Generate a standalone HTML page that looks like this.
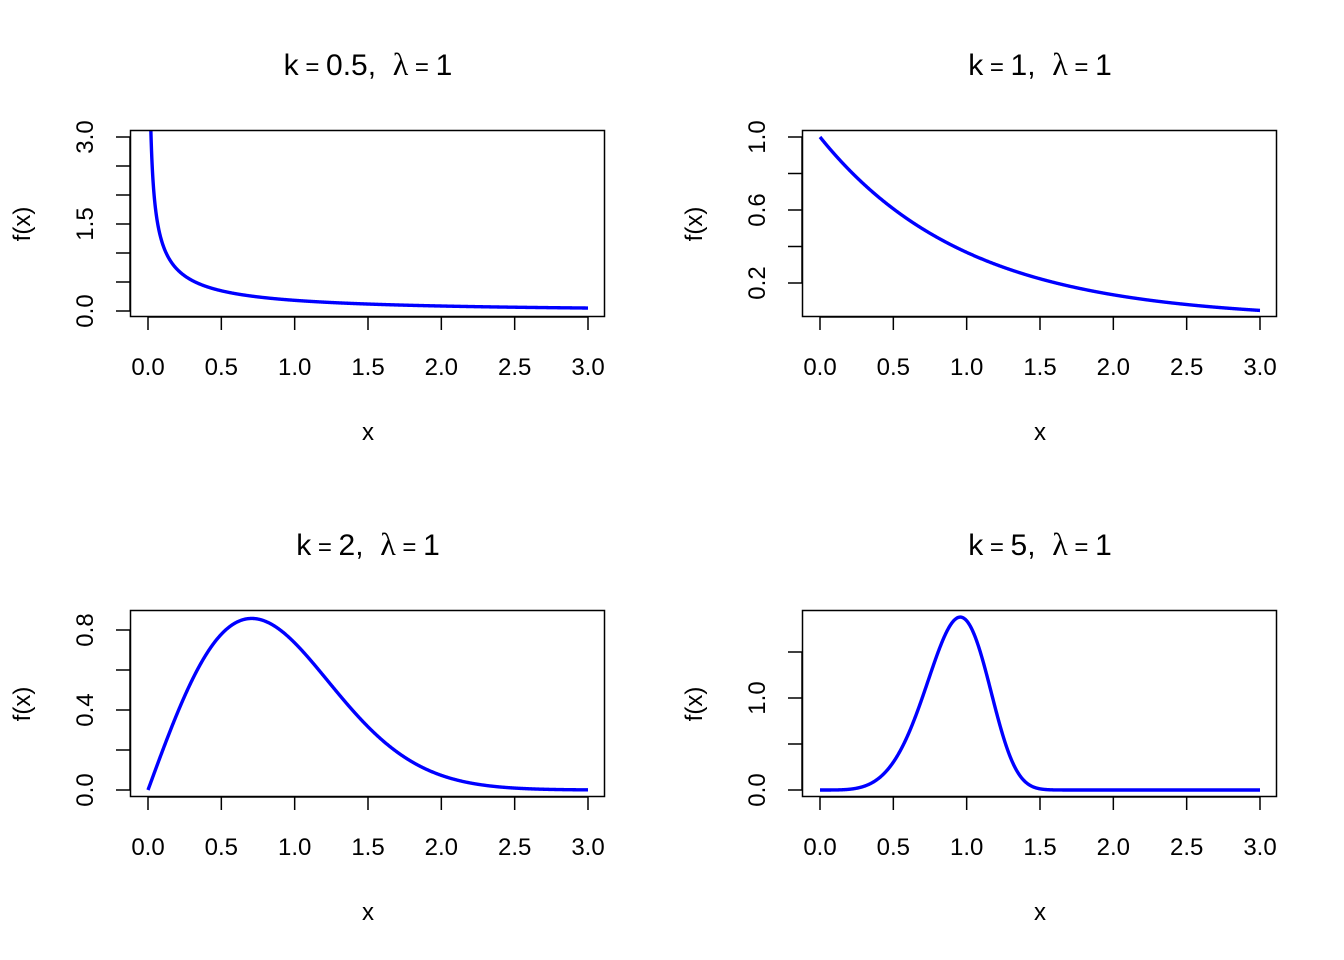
<!DOCTYPE html>
<html><head><meta charset="utf-8"><style>
html,body{margin:0;padding:0;background:#fff;}
svg{display:block;}
text{font-family:"Liberation Sans",Arial,sans-serif;fill:#000;white-space:pre;}
</style></head><body>
<svg id="s" width="1344" height="960" xmlns="http://www.w3.org/2000/svg"></svg>
<script>
var s=document.getElementById('s'),out='';
var panels=[
 {k:0.5,ox:0,oy:0,y0:311,ppu:58,yt:[0,0.5,1,1.5,2,2.5,3],yl:[0,1.5,3],t:'0.5'},
 {k:1,ox:672,oy:0,y0:319.5,ppu:182.5,yt:[0.2,0.4,0.6,0.8,1.0],yl:[0.2,0.6,1.0],t:'1'},
 {k:2,ox:0,oy:480,y0:310,ppu:200,yt:[0,0.2,0.4,0.6,0.8],yl:[0,0.4,0.8],t:'2'},
 {k:5,ox:672,oy:480,y0:310,ppu:92,yt:[0,0.5,1,1.5],yl:[0,1],t:'5'}
];
panels.forEach(function(p,i){
 var ox=p.ox,oy=p.oy;
 var X=function(x){return ox+148+x*440/3;},Y=function(y){return oy+p.y0-y*p.ppu;};
 out+='<clipPath id="c'+i+'"><rect x="'+(ox+130)+'" y="'+(oy+130)+'" width="475" height="187"/></clipPath>';
 var d='';
 for(var j=0;j<=1500;j++){var x=j*3/1500;if(p.k<1&&x===0)x=0.0005;
  var f=p.k*Math.pow(x,p.k-1)*Math.exp(-Math.pow(x,p.k));var yy=Math.max(Y(f),oy+0);d+=(j?'L':'M')+X(x).toFixed(2)+' '+yy.toFixed(2);}
 out+='<path d="'+d+'" fill="none" stroke="#0000ff" stroke-width="3.4" clip-path="url(#c'+i+')"/>';
 out+='<rect x="'+(ox+130.5)+'" y="'+(oy+130.5)+'" width="474" height="186" fill="none" stroke="#000" stroke-width="1.5"/>';
 for(var t=0;t<=6;t++){var xx=X(t*0.5);out+='<line x1="'+xx+'" y1="'+(oy+317)+'" x2="'+xx+'" y2="'+(oy+330)+'" stroke="#000" stroke-width="1.5"/>';
  out+='<text x="'+xx+'" y="'+(oy+375)+'" font-size="24" text-anchor="middle">'+(t*0.5).toFixed(1)+'</text>';}
 out+='<line x1="'+X(0)+'" y1="'+(oy+317)+'" x2="'+X(3)+'" y2="'+(oy+317)+'" stroke="#000" stroke-width="1.5"/>';
 p.yt.forEach(function(v){var yy=Y(v);out+='<line x1="'+(ox+116)+'" y1="'+yy+'" x2="'+(ox+130)+'" y2="'+yy+'" stroke="#000" stroke-width="1.5"/>';});
 out+='<line x1="'+(ox+130)+'" y1="'+Y(p.yt[0])+'" x2="'+(ox+130)+'" y2="'+Y(p.yt[p.yt.length-1])+'" stroke="#000" stroke-width="1.5"/>';
 p.yl.forEach(function(v){var yy=Y(v);out+='<text transform="translate('+(ox+93)+','+yy+') rotate(-90)" font-size="24" text-anchor="middle">'+v.toFixed(1)+'</text>';});
 out+='<text x="'+(ox+368)+'" y="'+(oy+75)+'" font-size="30" text-anchor="middle">k<tspan font-size="24"> = </tspan>'+p.t+',  <tspan font-family="Liberation Serif,serif" font-size="32">λ</tspan><tspan font-size="24"> = </tspan>1</text>';
 out+='<text x="'+(ox+368)+'" y="'+(oy+440)+'" font-size="24" text-anchor="middle">x</text>';
 out+='<text transform="translate('+(ox+30)+','+(oy+224)+') rotate(-90)" font-size="24" text-anchor="middle">f(x)</text>';
});
s.innerHTML=out;
</script>
</body></html>
